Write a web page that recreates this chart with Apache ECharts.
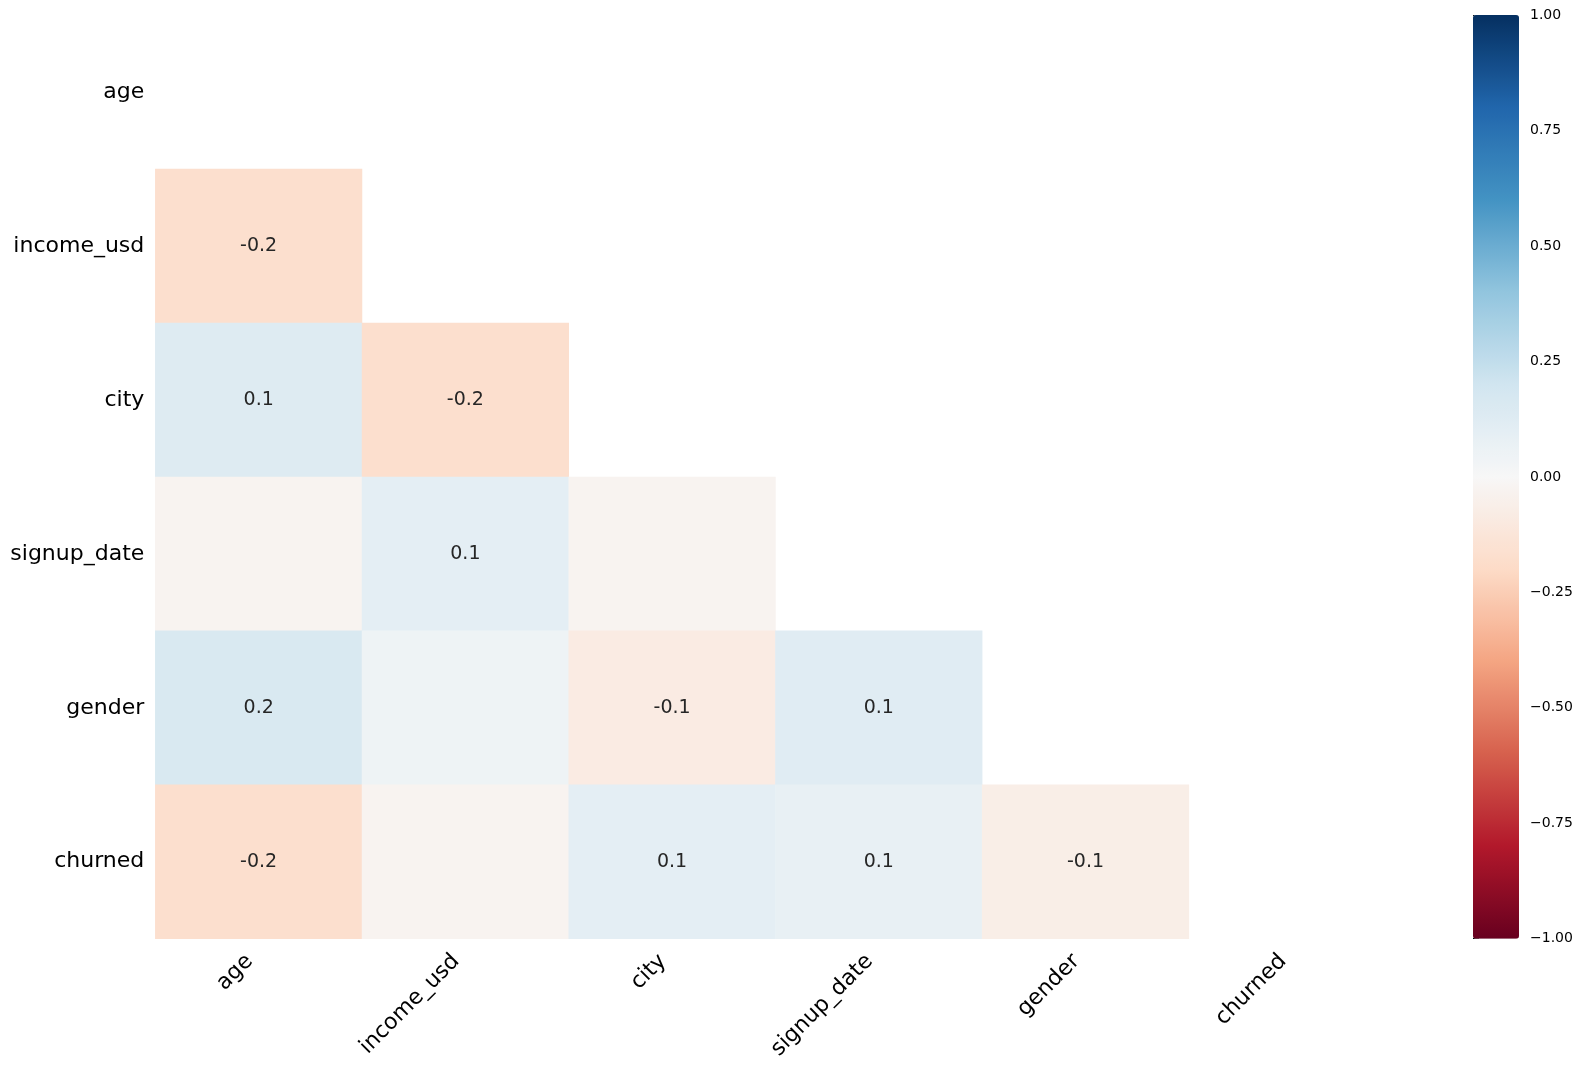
<!DOCTYPE html>
<html>
<head>
<meta charset="utf-8">
<script src="https://cdn.jsdelivr.net/npm/echarts@6/dist/echarts.min.js"></script>
<style>
html,body{margin:0;padding:0;background:#fff;}
#chart{width:1581px;height:1069px;}
</style>
</head>
<body>
<div id="chart"></div>
<script>
// Variables (rows/columns of the nullity correlation matrix)
const variables = ['age', 'income_usd', 'city', 'signup_date', 'gender', 'churned'];

// Lower-triangle correlations, one array per row (row i has i values for columns 0..i-1)
const rowIncome = [-0.17];
const rowCity = [0.13, -0.17];
const rowSignup = [-0.03, 0.10, -0.03];
const rowGender = [0.16, 0.045, -0.085, 0.12];
const rowChurned = [-0.17, -0.03, 0.10, 0.08, -0.065];

// Colorbar tick labels
const colorbarTicks = [-1.0, -0.75, -0.5, -0.25, 0.0, 0.25, 0.5, 0.75, 1.0];

// RdBu colormap (low -> high)
const rdbu = ['#67001f','#b2182b','#d6604d','#f4a582','#fddbc7','#f7f7f7','#d1e5f0','#92c5de','#4393c3','#2166ac','#053061'];

const rows = [[], rowIncome, rowCity, rowSignup, rowGender, rowChurned];
const cells = [];
rows.forEach((r, i) => r.forEach((v, j) => cells.push([j, i, v])));

const fontFamily = 'DejaVu Sans';
const chart = echarts.init(document.getElementById('chart'), null, {renderer: 'canvas'});

const gridTop = 15.1, gridBottomY = 938.7;
chart.setOption({
  animation: false,
  backgroundColor: '#ffffff',
  textStyle: {fontFamily: fontFamily},
  grid: [
    {left: 155.3, right: 1581 - 1395.6, top: gridTop, bottom: 1069 - gridBottomY, containLabel: false},
    {left: 1473, width: 46, top: gridTop, bottom: 1069 - gridBottomY, containLabel: false}
  ],
  xAxis: [
    {
      type: 'category', gridIndex: 0, data: variables,
      axisLine: {show: false}, axisTick: {show: false}, splitLine: {show: false},
      axisLabel: {rotate: 45, fontSize: 22, color: '#000', margin: 10, padding: [0, 13, 0, 0], fontFamily: fontFamily, interval: 0}
    },
    {type: 'value', gridIndex: 1, show: false, min: 0, max: 1}
  ],
  yAxis: [
    {
      type: 'category', gridIndex: 0, data: variables, inverse: true,
      axisLine: {show: false}, axisTick: {show: false}, splitLine: {show: false},
      axisLabel: {fontSize: 22, color: '#000', margin: 11, fontFamily: fontFamily, interval: 0}
    },
    {
      type: 'value', gridIndex: 1, position: 'right', min: -1, max: 1, interval: 0.25,
      axisLine: {show: false},
      axisTick: {show: true, length: 6, inside: false, lineStyle: {color: '#000', width: 1}},
      splitLine: {show: false},
      axisLabel: {
        fontSize: 14, color: '#000', margin: 11, fontFamily: fontFamily,
        formatter: v => {
          const t = colorbarTicks.find(x => Math.abs(x - v) < 1e-9);
          const val = t === undefined ? v : t;
          return (val < 0 ? '\u2212' : '') + Math.abs(val).toFixed(2);
        }
      }
    }
  ],
  visualMap: {
    type: 'continuous', min: -1, max: 1, seriesIndex: 0,
    calculable: false, show: true, orient: 'vertical',
    left: 1473, top: gridTop, itemWidth: 46, itemHeight: gridBottomY - gridTop,
    padding: 0, text: null, showLabel: false, hoverLink: false,
    inRange: {color: rdbu}
  },
  series: [
    {
      type: 'heatmap', xAxisIndex: 0, yAxisIndex: 0, data: cells,
      itemStyle: {borderWidth: 0},
      emphasis: {disabled: true},
      label: {
        show: true, fontSize: 19, color: '#262626', fontFamily: fontFamily,
        formatter: p => {
          const v = p.value[2];
          if (Math.abs(v) < 0.05) return '';
          return v.toFixed(1);
        }
      }
    },
    {
      type: 'line', xAxisIndex: 1, yAxisIndex: 1, data: [], silent: true
    }
  ]
});
</script>
</body>
</html>
